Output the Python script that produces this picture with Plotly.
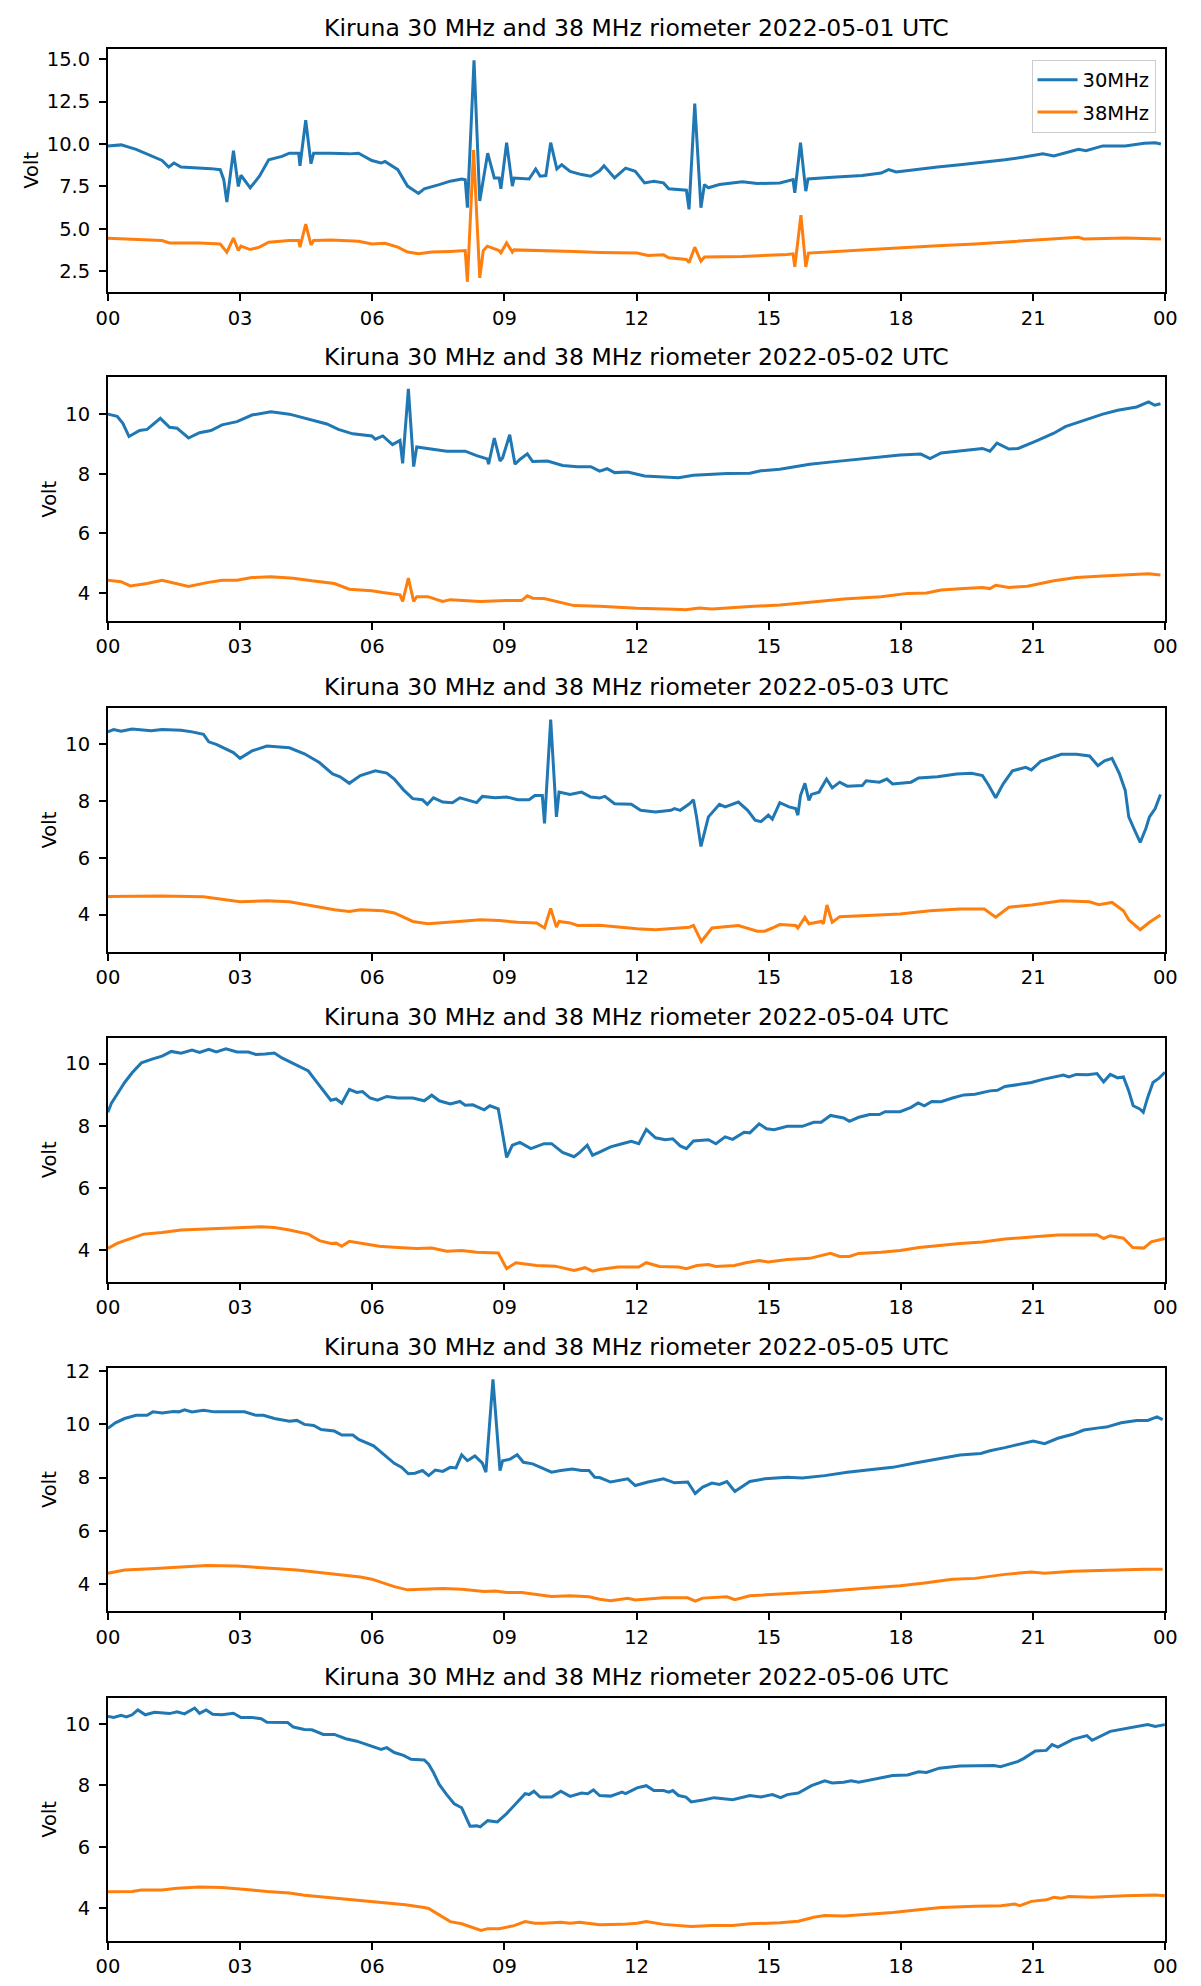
import plotly.graph_objects as go

# Kiruna riometer, six days
dates = ["2022-05-01", "2022-05-02", "2022-05-03", "2022-05-04", "2022-05-05", "2022-05-06"]
tick_hours = [0, 3, 6, 9, 12, 15, 18, 21, 24]
tick_labels = ["00", "03", "06", "09", "12", "15", "18", "21", "00"]

# ---- day 1 ----
d1_h30 = [
    0.00, 0.30, 0.64, 0.98, 1.23, 1.38, 1.50, 1.66, 2.08, 2.34,
    2.55, 2.63, 2.70, 2.85, 2.96, 3.02, 3.23, 3.44, 3.65, 3.95,
    4.12, 4.33, 4.36, 4.49, 4.61, 4.67, 5.06, 5.48, 5.69, 5.99,
    6.20, 6.29, 6.58, 6.80, 7.05, 7.18, 7.52, 7.77, 8.03, 8.11,
    8.16, 8.31, 8.44, 8.52, 8.62, 8.77, 8.88, 8.92, 9.05, 9.18,
    9.22, 9.56, 9.71, 9.81, 9.94, 10.05, 10.19, 10.30, 10.49, 10.75,
    10.96, 11.16, 11.26, 11.50, 11.75, 11.97, 12.18, 12.39, 12.61, 12.73,
    12.95, 13.13, 13.19, 13.32, 13.46, 13.54, 13.63, 13.88, 14.40, 14.74,
    15.25, 15.55, 15.59, 15.72, 15.84, 15.89, 16.44, 17.12, 17.55, 17.72,
    17.89, 18.40, 18.83, 19.34, 19.85, 20.36, 20.79, 21.22, 21.47, 21.73,
    22.03, 22.20, 22.58, 23.09, 23.52, 23.77, 23.90]
d1_v30 = [
    9.89, 9.95, 9.69, 9.30, 9.03, 8.64, 8.88, 8.64, 8.60, 8.55,
    8.49, 7.90, 6.58, 9.61, 7.50, 8.16, 7.42, 8.10, 9.07, 9.27,
    9.46, 9.46, 8.72, 11.40, 8.84, 9.46, 9.46, 9.42, 9.46, 9.03,
    8.88, 8.97, 8.49, 7.52, 7.09, 7.36, 7.61, 7.81, 7.94, 7.90,
    6.25, 14.94, 6.64, 7.90, 9.46, 8.00, 8.00, 7.36, 10.08, 7.52,
    8.00, 7.94, 8.53, 8.10, 8.14, 10.08, 8.53, 8.78, 8.39, 8.20,
    8.10, 8.42, 8.72, 8.00, 8.58, 8.39, 7.71, 7.81, 7.71, 7.36,
    7.32, 7.28, 6.15, 12.38, 6.25, 7.61, 7.42, 7.61, 7.77, 7.67,
    7.71, 7.90, 7.13, 10.08, 7.22, 7.94, 8.04, 8.14, 8.29, 8.49,
    8.35, 8.53, 8.64, 8.78, 8.92, 9.07, 9.23, 9.42, 9.30, 9.50,
    9.69, 9.61, 9.89, 9.89, 10.04, 10.08, 10.00]
d1_h38 = [
    0.00, 0.38, 1.23, 1.40, 2.08, 2.55, 2.70, 2.85, 2.96, 3.02,
    3.23, 3.44, 3.65, 4.12, 4.33, 4.36, 4.49, 4.61, 4.67, 5.06,
    5.69, 5.99, 6.29, 6.58, 6.80, 7.05, 7.35, 7.77, 8.11, 8.16,
    8.30, 8.44, 8.52, 8.61, 8.88, 8.92, 9.05, 9.18, 9.22, 10.58,
    11.16, 12.01, 12.26, 12.61, 12.73, 13.13, 13.19, 13.32, 13.46, 13.54,
    14.40, 15.42, 15.55, 15.59, 15.73, 15.84, 15.90, 17.12, 17.72, 18.83,
    19.68, 20.53, 21.39, 22.03, 22.15, 23.09, 23.90]
d1_v38 = [
    4.44, 4.40, 4.31, 4.17, 4.17, 4.11, 3.63, 4.46, 3.72, 3.98,
    3.78, 3.92, 4.21, 4.31, 4.31, 3.92, 5.28, 4.05, 4.31, 4.35,
    4.27, 4.11, 4.15, 3.92, 3.63, 3.53, 3.63, 3.67, 3.72, 1.88,
    9.65, 2.11, 3.72, 3.98, 3.72, 3.59, 4.17, 3.63, 3.76, 3.67,
    3.61, 3.57, 3.43, 3.47, 3.30, 3.20, 3.01, 3.92, 3.09, 3.34,
    3.37, 3.49, 3.53, 2.76, 5.81, 2.76, 3.57, 3.76, 3.86, 4.01,
    4.11, 4.25, 4.35, 4.50, 4.40, 4.46, 4.40]

# ---- day 2 ----
d2_h30 = [
    0.00, 0.21, 0.34, 0.48, 0.72, 0.89, 1.19, 1.40, 1.57, 1.83,
    2.08, 2.34, 2.59, 2.93, 3.27, 3.70, 4.12, 4.55, 4.97, 5.23,
    5.56, 5.99, 6.07, 6.24, 6.46, 6.63, 6.69, 6.82, 6.94, 7.01,
    7.35, 7.69, 8.11, 8.37, 8.61, 8.64, 8.77, 8.90, 8.96, 9.12,
    9.24, 9.35, 9.52, 9.64, 9.98, 10.32, 10.66, 10.96, 11.16, 11.33,
    11.50, 11.80, 12.18, 12.52, 12.95, 13.29, 13.71, 14.05, 14.57, 14.82,
    15.25, 15.59, 15.93, 16.44, 16.95, 17.46, 17.98, 18.45, 18.66, 18.91,
    19.34, 19.85, 20.02, 20.18, 20.45, 20.66, 21.05, 21.47, 21.73, 22.15,
    22.58, 22.92, 23.35, 23.62, 23.76, 23.89]
d2_v30 = [
    10.00, 9.93, 9.69, 9.25, 9.45, 9.49, 9.86, 9.56, 9.53, 9.20,
    9.38, 9.45, 9.64, 9.75, 9.97, 10.08, 10.00, 9.82, 9.67, 9.49,
    9.34, 9.27, 9.16, 9.27, 8.98, 9.12, 8.35, 10.85, 8.24, 8.90,
    8.83, 8.76, 8.76, 8.61, 8.50, 8.32, 9.20, 8.43, 8.54, 9.31,
    8.32, 8.48, 8.67, 8.41, 8.43, 8.28, 8.24, 8.24, 8.09, 8.17,
    8.04, 8.06, 7.93, 7.91, 7.87, 7.95, 7.99, 8.01, 8.02, 8.10,
    8.15, 8.24, 8.32, 8.40, 8.48, 8.57, 8.63, 8.66, 8.51, 8.70,
    8.77, 8.85, 8.76, 9.03, 8.83, 8.85, 9.09, 9.36, 9.58, 9.80,
    10.00, 10.13, 10.24, 10.41, 10.30, 10.35]
d2_h38 = [
    0.00, 0.30, 0.51, 0.89, 1.23, 1.49, 1.83, 2.25, 2.59, 2.93,
    3.27, 3.70, 4.21, 4.63, 5.14, 5.48, 5.99, 6.24, 6.63, 6.69,
    6.82, 6.94, 7.01, 7.26, 7.60, 7.77, 8.45, 9.05, 9.39, 9.52,
    9.64, 9.90, 10.58, 11.16, 12.01, 12.86, 13.12, 13.42, 13.71, 14.57,
    15.25, 15.93, 16.70, 17.55, 18.15, 18.58, 18.91, 19.43, 19.85, 20.02,
    20.15, 20.45, 20.87, 21.47, 21.98, 22.58, 23.35, 23.62, 23.89]
d2_v38 = [
    4.43, 4.38, 4.24, 4.32, 4.43, 4.35, 4.22, 4.35, 4.43, 4.43,
    4.52, 4.55, 4.50, 4.41, 4.32, 4.13, 4.08, 4.02, 3.94, 3.72,
    4.50, 3.72, 3.88, 3.88, 3.72, 3.78, 3.72, 3.75, 3.75, 3.91,
    3.83, 3.82, 3.58, 3.56, 3.49, 3.46, 3.44, 3.50, 3.47, 3.55,
    3.60, 3.69, 3.80, 3.88, 3.99, 4.00, 4.10, 4.15, 4.19, 4.15,
    4.26, 4.19, 4.23, 4.41, 4.52, 4.57, 4.63, 4.65, 4.61]

# ---- day 3 ----
d3_h30 = [
    0.00, 0.13, 0.30, 0.55, 0.98, 1.23, 1.66, 1.91, 2.17, 2.29,
    2.46, 2.68, 2.85, 3.00, 3.27, 3.61, 3.87, 4.12, 4.46, 4.80,
    5.10, 5.27, 5.48, 5.73, 6.07, 6.33, 6.50, 6.71, 6.92, 7.14,
    7.25, 7.39, 7.60, 7.82, 7.99, 8.16, 8.37, 8.50, 8.79, 9.05,
    9.30, 9.56, 9.69, 9.86, 9.91, 10.05, 10.18, 10.24, 10.49, 10.75,
    10.96, 11.16, 11.28, 11.50, 11.88, 12.09, 12.43, 12.78, 12.86, 12.99,
    13.20, 13.29, 13.36, 13.46, 13.63, 13.88, 14.01, 14.31, 14.52, 14.69,
    14.82, 14.99, 15.08, 15.25, 15.46, 15.61, 15.66, 15.72, 15.82, 15.91,
    15.97, 16.14, 16.31, 16.44, 16.61, 16.78, 17.12, 17.21, 17.51, 17.68,
    17.81, 18.23, 18.40, 18.83, 19.26, 19.60, 19.85, 19.98, 20.15, 20.32,
    20.53, 20.83, 20.96, 21.17, 21.64, 21.98, 22.28, 22.47, 22.62, 22.79,
    22.96, 23.09, 23.17, 23.30, 23.43, 23.56, 23.64, 23.77, 23.89]
d3_v30 = [
    10.43, 10.51, 10.45, 10.53, 10.47, 10.51, 10.49, 10.43, 10.34, 10.08,
    9.99, 9.81, 9.70, 9.50, 9.76, 9.93, 9.91, 9.87, 9.66, 9.35,
    8.95, 8.85, 8.62, 8.89, 9.06, 8.98, 8.77, 8.39, 8.08, 8.04,
    7.88, 8.11, 7.96, 7.94, 8.11, 8.04, 7.94, 8.16, 8.11, 8.14,
    8.04, 8.04, 8.19, 8.19, 7.21, 10.86, 7.44, 8.31, 8.23, 8.31,
    8.14, 8.10, 8.16, 7.90, 7.88, 7.67, 7.61, 7.67, 7.73, 7.67,
    7.90, 8.04, 7.44, 6.40, 7.44, 7.88, 7.79, 7.96, 7.67, 7.32,
    7.27, 7.50, 7.36, 7.94, 7.79, 7.73, 7.50, 8.19, 8.62, 8.02,
    8.23, 8.31, 8.77, 8.46, 8.66, 8.52, 8.54, 8.71, 8.66, 8.77,
    8.60, 8.66, 8.81, 8.85, 8.95, 8.97, 8.89, 8.58, 8.11, 8.60,
    9.06, 9.18, 9.09, 9.39, 9.64, 9.64, 9.58, 9.24, 9.41, 9.50,
    8.95, 8.37, 7.44, 6.98, 6.54, 7.04, 7.44, 7.73, 8.23]
d3_h38 = [
    0.00, 1.23, 2.17, 2.46, 3.00, 3.61, 4.12, 4.63, 5.14, 5.48,
    5.73, 6.24, 6.50, 6.71, 6.92, 7.26, 7.60, 8.03, 8.45, 8.88,
    9.30, 9.73, 9.91, 10.05, 10.18, 10.24, 10.49, 10.66, 11.16, 12.01,
    12.43, 12.86, 13.20, 13.29, 13.47, 13.71, 14.31, 14.74, 14.91, 15.08,
    15.25, 15.61, 15.66, 15.82, 15.91, 16.19, 16.24, 16.32, 16.44, 16.61,
    17.29, 17.98, 18.66, 19.34, 19.89, 20.15, 20.45, 20.96, 21.64, 22.28,
    22.49, 22.79, 23.05, 23.17, 23.43, 23.64, 23.89]
d3_v38 = [
    4.64, 4.66, 4.63, 4.57, 4.45, 4.49, 4.45, 4.31, 4.17, 4.11,
    4.17, 4.14, 4.06, 3.91, 3.76, 3.68, 3.73, 3.77, 3.82, 3.79,
    3.73, 3.71, 3.53, 4.22, 3.56, 3.76, 3.71, 3.62, 3.63, 3.50,
    3.47, 3.53, 3.56, 3.62, 3.06, 3.53, 3.62, 3.42, 3.42, 3.53,
    3.65, 3.62, 3.53, 3.91, 3.68, 3.76, 3.68, 4.34, 3.73, 3.93,
    3.97, 4.02, 4.14, 4.20, 4.20, 3.91, 4.26, 4.34, 4.49, 4.45,
    4.35, 4.43, 4.14, 3.82, 3.47, 3.73, 3.99]

# ---- day 4 ----
d4_h30 = [
    0.00, 0.08, 0.21, 0.38, 0.55, 0.76, 1.02, 1.23, 1.44, 1.66,
    1.91, 2.08, 2.29, 2.46, 2.68, 2.93, 3.19, 3.36, 3.57, 3.78,
    3.95, 4.29, 4.55, 4.72, 4.89, 5.06, 5.18, 5.31, 5.48, 5.65,
    5.78, 5.95, 6.12, 6.33, 6.58, 6.92, 7.18, 7.35, 7.52, 7.77,
    7.99, 8.11, 8.28, 8.54, 8.67, 8.86, 8.92, 9.05, 9.18, 9.35,
    9.60, 9.90, 10.07, 10.32, 10.58, 10.71, 10.88, 11.00, 11.16, 11.41,
    11.67, 11.88, 12.05, 12.22, 12.43, 12.65, 12.82, 12.99, 13.13, 13.29,
    13.63, 13.80, 14.01, 14.18, 14.44, 14.57, 14.78, 14.95, 15.12, 15.42,
    15.76, 16.02, 16.19, 16.40, 16.70, 16.83, 17.04, 17.29, 17.51, 17.64,
    17.98, 18.23, 18.39, 18.53, 18.70, 18.91, 19.17, 19.43, 19.68, 20.02,
    20.19, 20.36, 20.70, 20.96, 21.22, 21.56, 21.69, 21.81, 21.98, 22.24,
    22.45, 22.60, 22.75, 22.92, 23.05, 23.17, 23.27, 23.42, 23.50, 23.60,
    23.72, 23.85, 23.99]
d4_v30 = [
    8.43, 8.72, 9.01, 9.39, 9.70, 10.02, 10.15, 10.24, 10.39, 10.33,
    10.43, 10.36, 10.46, 10.37, 10.47, 10.37, 10.37, 10.29, 10.31, 10.34,
    10.18, 9.95, 9.76, 9.44, 9.12, 8.82, 8.86, 8.72, 9.17, 9.07,
    9.10, 8.89, 8.82, 8.94, 8.89, 8.89, 8.80, 8.98, 8.80, 8.70,
    8.78, 8.66, 8.67, 8.51, 8.64, 8.54, 8.06, 6.98, 7.37, 7.46,
    7.26, 7.42, 7.42, 7.14, 7.00, 7.14, 7.37, 7.05, 7.15, 7.32,
    7.42, 7.50, 7.42, 7.88, 7.61, 7.55, 7.58, 7.35, 7.26, 7.51,
    7.55, 7.42, 7.64, 7.56, 7.79, 7.77, 8.06, 7.90, 7.87, 7.98,
    7.98, 8.11, 8.11, 8.33, 8.25, 8.14, 8.27, 8.36, 8.36, 8.45,
    8.45, 8.59, 8.73, 8.64, 8.78, 8.77, 8.89, 8.99, 9.01, 9.12,
    9.14, 9.26, 9.33, 9.39, 9.49, 9.58, 9.63, 9.57, 9.65, 9.64,
    9.68, 9.41, 9.65, 9.54, 9.57, 9.12, 8.64, 8.54, 8.43, 8.91,
    9.39, 9.52, 9.72]
d4_h38 = [
    0.00, 0.21, 0.38, 0.81, 1.23, 1.66, 2.08, 2.93, 3.48, 3.78,
    4.12, 4.55, 4.80, 5.06, 5.18, 5.31, 5.48, 5.78, 6.16, 6.58,
    7.01, 7.35, 7.69, 8.03, 8.37, 8.86, 9.05, 9.26, 9.73, 10.15,
    10.58, 10.83, 11.00, 11.16, 11.58, 12.05, 12.22, 12.52, 12.95, 13.13,
    13.37, 13.63, 13.80, 14.22, 14.48, 14.78, 14.99, 15.42, 15.93, 16.40,
    16.61, 16.83, 17.04, 17.55, 17.98, 18.41, 18.83, 19.34, 19.85, 20.36,
    20.96, 21.56, 22.45, 22.60, 22.75, 23.05, 23.26, 23.51, 23.68, 23.99]
d4_v38 = [
    4.05, 4.21, 4.30, 4.51, 4.56, 4.64, 4.67, 4.71, 4.75, 4.72,
    4.64, 4.51, 4.30, 4.21, 4.22, 4.12, 4.28, 4.21, 4.12, 4.08,
    4.05, 4.06, 3.96, 3.98, 3.93, 3.90, 3.40, 3.59, 3.50, 3.48,
    3.34, 3.43, 3.32, 3.37, 3.45, 3.45, 3.59, 3.47, 3.45, 3.40,
    3.50, 3.53, 3.47, 3.50, 3.59, 3.66, 3.61, 3.69, 3.73, 3.89,
    3.79, 3.79, 3.89, 3.93, 3.98, 4.08, 4.14, 4.21, 4.26, 4.35,
    4.42, 4.48, 4.49, 4.37, 4.46, 4.38, 4.08, 4.06, 4.26, 4.37]

# ---- day 5 ----
d5_h30 = [
    0.00, 0.17, 0.38, 0.64, 0.89, 1.02, 1.23, 1.49, 1.61, 1.74,
    1.91, 2.17, 2.42, 2.93, 3.10, 3.36, 3.53, 3.78, 4.12, 4.29,
    4.46, 4.67, 4.84, 5.14, 5.31, 5.56, 5.69, 6.03, 6.24, 6.50,
    6.67, 6.82, 6.97, 7.14, 7.28, 7.43, 7.60, 7.77, 7.90, 8.03,
    8.16, 8.33, 8.50, 8.58, 8.74, 8.90, 8.96, 9.13, 9.29, 9.43,
    9.64, 9.86, 10.07, 10.28, 10.54, 10.75, 10.92, 11.05, 11.16, 11.41,
    11.80, 11.97, 12.26, 12.61, 12.86, 13.16, 13.33, 13.50, 13.71, 13.88,
    14.05, 14.23, 14.57, 14.91, 15.42, 15.76, 16.27, 16.78, 17.29, 17.81,
    18.32, 18.83, 19.34, 19.81, 20.02, 20.36, 20.70, 21.00, 21.26, 21.56,
    21.90, 22.15, 22.49, 22.66, 23.00, 23.35, 23.60, 23.81, 23.94]
d5_v30 = [
    9.84, 10.05, 10.21, 10.33, 10.33, 10.46, 10.42, 10.47, 10.46, 10.54,
    10.46, 10.52, 10.46, 10.44, 10.46, 10.33, 10.33, 10.21, 10.11, 10.14,
    9.99, 9.95, 9.80, 9.74, 9.59, 9.59, 9.43, 9.19, 8.90, 8.53,
    8.38, 8.14, 8.16, 8.26, 8.07, 8.28, 8.23, 8.38, 8.36, 8.85,
    8.63, 8.81, 8.54, 8.20, 11.68, 8.26, 8.63, 8.69, 8.85, 8.57,
    8.51, 8.35, 8.20, 8.26, 8.32, 8.26, 8.26, 8.01, 8.00, 7.83,
    7.95, 7.70, 7.83, 7.95, 7.80, 7.83, 7.40, 7.64, 7.79, 7.74,
    7.85, 7.48, 7.85, 7.95, 8.01, 7.98, 8.07, 8.20, 8.30, 8.38,
    8.54, 8.69, 8.84, 8.90, 9.00, 9.12, 9.25, 9.37, 9.27, 9.47,
    9.62, 9.78, 9.86, 9.89, 10.05, 10.14, 10.14, 10.27, 10.17]
d5_h38 = [
    0.00, 0.38, 0.98, 1.66, 2.25, 2.93, 3.27, 3.78, 4.29, 4.80,
    5.31, 5.73, 5.99, 6.24, 6.50, 6.80, 7.18, 7.60, 8.03, 8.54,
    8.79, 9.05, 9.39, 9.81, 10.07, 10.49, 10.92, 11.16, 11.41, 11.80,
    11.97, 12.61, 13.16, 13.33, 13.50, 14.05, 14.23, 14.57, 15.42, 16.27,
    17.12, 17.98, 18.49, 19.17, 19.68, 20.36, 20.96, 21.26, 21.90, 22.66,
    23.52, 23.94]
d5_v38 = [
    4.41, 4.53, 4.58, 4.65, 4.70, 4.68, 4.65, 4.59, 4.53, 4.43,
    4.33, 4.27, 4.19, 4.04, 3.91, 3.79, 3.81, 3.84, 3.81, 3.73,
    3.75, 3.69, 3.69, 3.60, 3.54, 3.57, 3.53, 3.44, 3.38, 3.47,
    3.41, 3.49, 3.49, 3.37, 3.48, 3.53, 3.42, 3.57, 3.65, 3.73,
    3.84, 3.94, 4.04, 4.19, 4.22, 4.37, 4.46, 4.41, 4.49, 4.53,
    4.56, 4.56]

# ---- day 6 ----
d6_h30 = [
    0.00, 0.13, 0.30, 0.42, 0.55, 0.68, 0.85, 1.06, 1.40, 1.57,
    1.74, 1.97, 2.08, 2.23, 2.38, 2.59, 2.85, 3.02, 3.27, 3.48,
    3.61, 3.87, 4.08, 4.21, 4.46, 4.63, 4.89, 5.14, 5.40, 5.65,
    5.99, 6.20, 6.33, 6.50, 6.71, 6.88, 7.18, 7.28, 7.39, 7.52,
    7.69, 7.86, 8.03, 8.10, 8.22, 8.37, 8.45, 8.62, 8.84, 9.05,
    9.26, 9.47, 9.56, 9.67, 9.81, 10.07, 10.28, 10.49, 10.75, 10.89,
    11.02, 11.16, 11.41, 11.67, 11.75, 12.01, 12.22, 12.39, 12.61, 12.73,
    12.82, 12.95, 13.12, 13.24, 13.54, 13.76, 14.18, 14.57, 14.82, 15.08,
    15.27, 15.42, 15.67, 15.97, 16.27, 16.44, 16.70, 16.87, 17.04, 17.46,
    17.81, 18.15, 18.40, 18.58, 18.87, 19.34, 19.68, 20.11, 20.26, 20.66,
    20.79, 21.05, 21.30, 21.43, 21.56, 21.90, 22.22, 22.34, 22.75, 22.96,
    23.26, 23.60, 23.77, 23.99]
d6_v30 = [
    10.25, 10.21, 10.28, 10.23, 10.30, 10.46, 10.30, 10.38, 10.34, 10.40,
    10.33, 10.52, 10.35, 10.46, 10.32, 10.30, 10.35, 10.21, 10.21, 10.17,
    10.06, 10.05, 10.05, 9.90, 9.82, 9.81, 9.66, 9.66, 9.52, 9.44,
    9.28, 9.17, 9.23, 9.07, 8.98, 8.85, 8.83, 8.69, 8.42, 8.03,
    7.70, 7.40, 7.27, 7.03, 6.67, 6.68, 6.65, 6.85, 6.81, 7.08,
    7.40, 7.73, 7.70, 7.81, 7.62, 7.62, 7.81, 7.64, 7.75, 7.73,
    7.85, 7.67, 7.65, 7.78, 7.73, 7.92, 7.99, 7.83, 7.83, 7.78,
    7.83, 7.67, 7.62, 7.46, 7.53, 7.60, 7.53, 7.67, 7.62, 7.70,
    7.60, 7.70, 7.75, 7.99, 8.15, 8.08, 8.10, 8.15, 8.10, 8.21,
    8.32, 8.34, 8.44, 8.42, 8.56, 8.63, 8.63, 8.65, 8.61, 8.78,
    8.88, 9.12, 9.14, 9.33, 9.25, 9.50, 9.62, 9.47, 9.76, 9.82,
    9.89, 9.98, 9.92, 9.98]
d6_h38 = [
    0.00, 0.55, 0.76, 1.23, 1.57, 2.08, 2.59, 2.93, 3.27, 3.61,
    4.12, 4.46, 4.97, 5.48, 5.99, 6.33, 6.75, 7.18, 7.28, 7.52,
    7.77, 8.03, 8.24, 8.47, 8.62, 8.88, 9.22, 9.47, 9.69, 9.90,
    10.28, 10.49, 10.71, 11.16, 11.67, 12.01, 12.22, 12.61, 13.24, 13.71,
    14.18, 14.57, 15.25, 15.67, 16.02, 16.27, 16.70, 17.12, 17.81, 18.40,
    18.91, 19.68, 20.27, 20.58, 20.70, 20.96, 21.30, 21.47, 21.64, 21.81,
    22.33, 23.09, 23.77, 23.99]
d6_v38 = [
    4.53, 4.54, 4.59, 4.59, 4.65, 4.69, 4.67, 4.64, 4.59, 4.54,
    4.49, 4.42, 4.35, 4.29, 4.22, 4.16, 4.11, 4.02, 3.99, 3.78,
    3.56, 3.49, 3.38, 3.27, 3.33, 3.33, 3.43, 3.56, 3.51, 3.51,
    3.54, 3.51, 3.54, 3.46, 3.47, 3.51, 3.56, 3.47, 3.40, 3.43,
    3.43, 3.49, 3.52, 3.57, 3.70, 3.76, 3.74, 3.78, 3.86, 3.95,
    4.02, 4.06, 4.08, 4.13, 4.08, 4.22, 4.27, 4.35, 4.32, 4.38,
    4.35, 4.40, 4.43, 4.40]

days = [
    (d1_h30, d1_v30, d1_h38, d1_v38),
    (d2_h30, d2_v30, d2_h38, d2_v38),
    (d3_h30, d3_v30, d3_h38, d3_v38),
    (d4_h30, d4_v30, d4_h38, d4_v38),
    (d5_h30, d5_v30, d5_h38, d5_v38),
    (d6_h30, d6_v30, d6_h38, d6_v38),
]
y_ranges = [[1.26, 15.62], [3.06, 11.23], [2.69, 11.26], [2.98, 10.82], [2.98, 12.11], [2.92, 10.86]]
y_dticks = [2.5, 2, 2, 2, 2, 2]

# page geometry: the browser body keeps its 8px margin, so the figure is
# 16px smaller than the window and page pixels are shifted by 8
PAGE_W, PAGE_H = 1201, 1986
OFF = 8
W, H = PAGE_W - 2 * OFF, PAGE_H - 2 * OFF


def px(x):
    return (x - OFF) / W


def py(y):
    return 1 - (y - OFF) / H


ax_left, ax_right = 97.7, 1177
panel_tops = [41, 373, 707, 1040, 1373, 1706]
panel_h = 246
FONT = "DejaVu Sans"
C30, C38 = "#1f77b4", "#ff7f0e"

fig = go.Figure()
layout = {}
annotations = []
xmid = px((ax_left + ax_right) / 2)

for i, (h30, v30, h38, v38) in enumerate(days):
    assert len(h30) == len(v30) and len(h38) == len(v38)
    n = "" if i == 0 else str(i + 1)
    fig.add_trace(go.Scatter(x=h30, y=v30, mode="lines", name="30MHz",
                             legendgroup="30", line=dict(color=C30, width=3),
                             xaxis="x" + n, yaxis="y" + n, showlegend=(i == 0)))
    fig.add_trace(go.Scatter(x=h38, y=v38, mode="lines", name="38MHz",
                             legendgroup="38", line=dict(color=C38, width=3),
                             xaxis="x" + n, yaxis="y" + n, showlegend=(i == 0)))

    top = panel_tops[i]
    bot = top + panel_h
    common = dict(showline=True, mirror=True, linecolor="black", linewidth=1.6,
                  ticks="outside", ticklen=7, tickwidth=1.6, tickcolor="black",
                  showgrid=False, zeroline=False,
                  tickfont=dict(family=FONT, size=19.5, color="black"))
    layout["xaxis" + n] = dict(common, domain=[px(ax_left), px(ax_right)],
                               anchor="y" + n, range=[0, 24],
                               tickvals=tick_hours, ticktext=tick_labels)
    layout["yaxis" + n] = dict(common, domain=[py(bot), py(top)],
                               anchor="x" + n, range=y_ranges[i],
                               tick0=0, dtick=y_dticks[i], ticklabelstandoff=5,
                               tickformat=".1f" if i == 0 else "d")

    annotations.append(dict(
        text=f"Kiruna 30 MHz and 38 MHz riometer {dates[i]} UTC",
        xref="paper", yref="paper", x=xmid, y=py(top - 21),
        xanchor="center", yanchor="middle", showarrow=False,
        font=dict(family=FONT, size=23.5, color="black")))
    volt_x = 19.5 if i == 0 else 38
    annotations.append(dict(
        text="Volt", xref="paper", yref="paper", x=px(volt_x),
        y=py(top + panel_h / 2), xanchor="center", yanchor="middle",
        textangle=-90, showarrow=False,
        font=dict(family=FONT, size=19.5, color="black")))

fig.update_layout(
    **layout,
    annotations=annotations,
    width=W, height=H,
    margin=dict(l=0, r=0, t=0, b=0),
    paper_bgcolor="white", plot_bgcolor="white",
    font=dict(family=FONT, color="black"),
    legend=dict(x=px(1167), y=py(52), xanchor="right", yanchor="top",
                bgcolor="rgba(255,255,255,0.8)", bordercolor="#cccccc",
                borderwidth=1, tracegroupgap=4, itemwidth=40,
                font=dict(family=FONT, size=19.5, color="black")),
)

fig.write_html("out.html", config={"displayModeBar": False})
